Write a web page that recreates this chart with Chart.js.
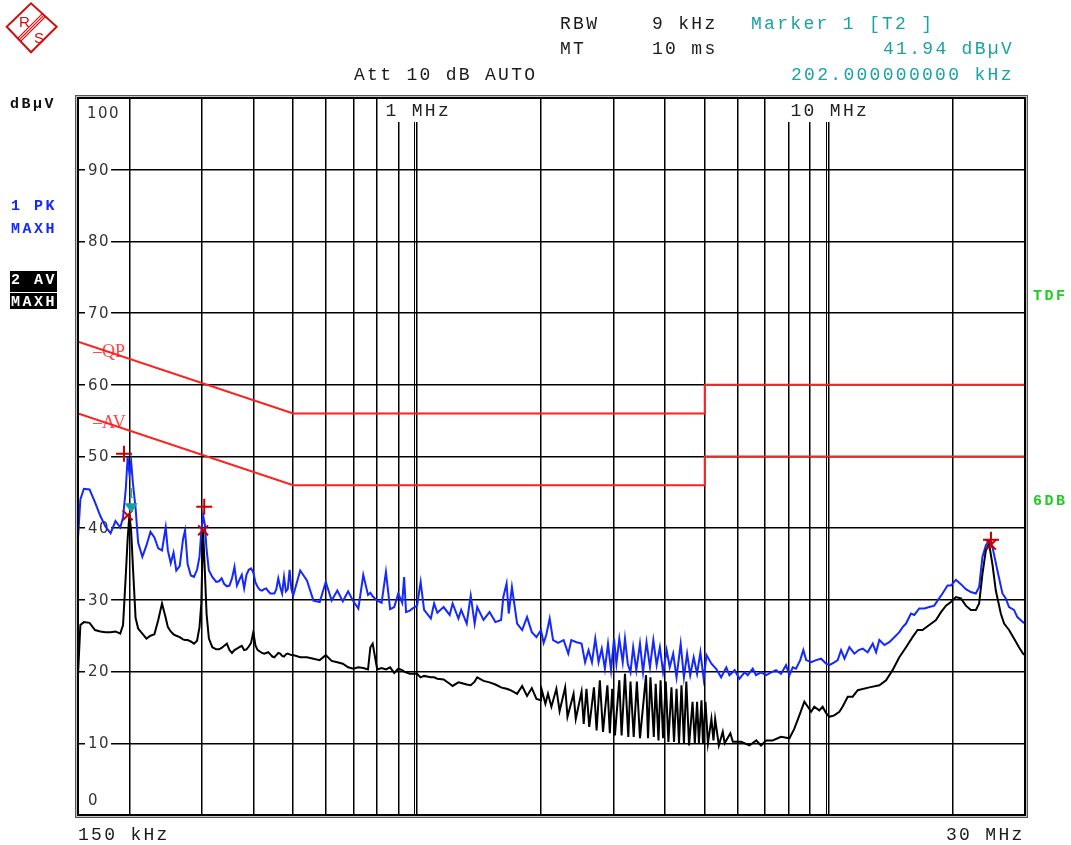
<!DOCTYPE html>
<html>
<head>
<meta charset="utf-8">
<script src="https://cdn.jsdelivr.net/npm/chart.js@4.4.1/dist/chart.umd.min.js"></script>
<style>
  body { margin: 0; background: #fff; }
  #wrap { position: relative; width: 1071px; height: 845px; overflow: hidden; }
  #c { position: absolute; left: 0; top: 0; }
  .t { position: absolute; font-family: "Liberation Mono", monospace; font-size: 18px; line-height: 18px; letter-spacing: 2.3px; white-space: pre; color: #1a1a1a; }
  .teal { color: #1aa3a3; }
  .b { position: absolute; font-family: "Liberation Mono", monospace; font-weight: bold; font-size: 15px; line-height: 15px; letter-spacing: 2.5px; white-space: pre; }
  .blue { color: #1428ff; }
  .green { color: #22cc22; }
  .inv { color: #fff; }
  .box { position: absolute; background: #000; }
</style>
</head>
<body>
<div id="wrap">
  <canvas id="c" width="1071" height="845"></canvas>

  <svg width="64" height="60" style="position:absolute;left:0;top:0">
    <polygon points="6.7,26.7 31,3.3 56.7,26.7 31,52.3" fill="none" stroke="#d01010" stroke-width="2"/>
    <line x1="17.7" y1="38.3" x2="42.4" y2="13.6" stroke="#d01010" stroke-width="1.2"/>
    <line x1="19.2" y1="39.8" x2="43.9" y2="15.1" stroke="#d01010" stroke-width="1.2"/>
    <line x1="20.6" y1="41.4" x2="45.5" y2="16.5" stroke="#d01010" stroke-width="1.2"/>
    <text x="19" y="27" font-family="Liberation Sans" font-size="15" fill="#d01010">R</text>
    <text x="34" y="43" font-family="Liberation Sans" font-size="15" fill="#d01010">S</text>
  </svg>

  <div class="t" style="left:560px;top:14.5px">RBW</div>
  <div class="t" style="left:652px;top:14.5px">9 kHz</div>
  <div class="t teal" style="left:751px;top:14.5px">Marker 1 [T2 ]</div>
  <div class="t" style="left:560px;top:39.5px">MT</div>
  <div class="t" style="left:652px;top:39.5px">10 ms</div>
  <div class="t teal" style="left:883px;top:39.5px">41.94 dBµV</div>
  <div class="t" style="left:354px;top:66px">Att 10 dB AUTO</div>
  <div class="t teal" style="left:791px;top:66px">202.000000000 kHz</div>

  <div class="b" style="left:10px;top:96.5px;color:#111">dBµV</div>
  <div class="b blue" style="left:11px;top:199px">1 PK</div>
  <div class="b blue" style="left:11px;top:222px">MAXH</div>
  <div class="box" style="left:10px;top:271px;width:47px;height:21px"></div>
  <div class="box" style="left:10px;top:293px;width:47px;height:16px"></div>
  <div class="b inv" style="left:11px;top:273px">2 AV</div>
  <div class="b inv" style="left:11px;top:294.5px">MAXH</div>
  <div class="b green" style="left:1033px;top:288.5px">TDF</div>
  <div class="b green" style="left:1033px;top:493.5px">6DB</div>

  <div class="t" style="left:78px;top:826px">150 kHz</div>
  <div class="t" style="left:946px;top:826px">30 MHz</div>
</div>

<script>
// frequency in MHz, level in dBµV
const lowFreq = [
  0.150, 0.152, 0.155, 0.160, 0.165, 0.170, 0.175, 0.180, 0.185, 0.190,
  0.193, 0.196, 0.198, 0.200, 0.202, 0.204, 0.207, 0.210, 0.215, 0.220,
  0.225, 0.230, 0.235, 0.240, 0.245, 0.248, 0.252, 0.256, 0.260, 0.265,
  0.270, 0.273, 0.277, 0.282, 0.287, 0.292, 0.296, 0.299, 0.302, 0.305,
  0.308, 0.312, 0.318, 0.325, 0.330, 0.335, 0.340, 0.345, 0.350, 0.355,
  0.360, 0.365, 0.370, 0.375, 0.380, 0.385, 0.390, 0.395, 0.400, 0.405,
  0.410, 0.415, 0.420, 0.425, 0.430, 0.435, 0.440, 0.445, 0.450, 0.455,
  0.460, 0.465, 0.470, 0.475, 0.480, 0.485, 0.490, 0.495, 0.500, 0.520,
  0.540, 0.560, 0.580, 0.600, 0.620, 0.640, 0.660, 0.680, 0.700, 0.720,
  0.740, 0.760, 0.770, 0.780, 0.800, 0.820, 0.840, 0.860, 0.880, 0.900,
  0.920, 0.930, 0.940, 0.960, 0.980, 1.000, 1.020, 1.040, 1.080, 1.100,
  1.120, 1.160, 1.200, 1.220, 1.260, 1.280, 1.320, 1.350, 1.380, 1.400,
  1.450, 1.500, 1.550, 1.600, 1.620, 1.650, 1.670, 1.700, 1.750, 1.800,
  1.850, 1.900, 1.950, 2.000
];
const peakLow = [
  38.6, 44.0, 45.5, 45.4, 43.6, 41.7, 40.2, 39.3, 41.0, 40.1,
  41.5, 45.5, 49.9, 47.6, 49.2, 46.2, 42.8, 38.0, 36.0, 37.6,
  39.5, 38.7, 37.2, 36.9, 40.1, 36.9, 35.1, 36.6, 34.1, 34.7,
  38.5, 39.7, 35.0, 33.4, 33.2, 34.2, 36.0, 39.5, 41.8, 40.5,
  37.0, 34.1, 33.2, 32.5, 32.6, 33.0, 32.2, 31.9, 32.0, 33.0,
  34.6, 32.0, 32.8, 33.5, 31.6, 33.5, 34.2, 34.4, 33.8, 32.4,
  31.8, 31.4, 31.3, 31.5, 31.6, 31.2, 30.9, 30.9, 30.9, 31.5,
  33.0, 31.8, 30.9, 33.2, 31.2, 31.5, 34.2, 31.5, 30.6, 34.1,
  32.7, 29.9, 29.7, 32.5, 29.9, 31.3, 29.8, 31.2, 29.8, 28.8,
  33.5, 30.7, 31.0, 30.5, 29.9, 29.6, 33.9, 28.7, 29.0, 30.9,
  29.6, 33.2, 28.3, 28.5, 28.9, 29.2, 32.5, 28.6, 27.4, 29.5,
  28.2, 29.0, 27.9, 29.5, 27.4, 28.6, 26.7, 30.6, 26.7, 29.0,
  27.2, 28.3, 26.9, 27.2, 30.4, 32.3, 28.1, 31.8, 26.7, 25.8,
  27.6, 25.5, 24.8, 25.8
];
const avgLow = [
  19.5, 26.5, 26.9, 26.8, 25.8, 25.6, 25.5, 25.5, 25.6, 25.3,
  26.5, 33.5, 38.5, 41.9, 39.5, 34.5, 27.5, 26.0, 25.3, 24.6,
  25.0, 25.2, 27.2, 29.5, 27.5, 26.2, 25.6, 25.2, 25.0, 24.8,
  24.5, 24.4, 24.4, 24.2, 23.9, 24.3, 26.2, 29.5, 39.7, 34.0,
  28.0, 24.6, 23.4, 23.1, 23.1, 23.3, 23.6, 23.9, 23.0, 22.6,
  23.0, 23.2, 23.4, 23.6, 23.0, 23.1, 23.5, 24.0, 25.5, 23.6,
  23.0, 22.8, 22.6, 22.5, 22.6, 22.7, 22.4, 22.1, 22.0, 22.3,
  22.6, 22.5, 22.2, 22.1, 22.4, 22.5, 22.4, 22.3, 22.3, 22.0,
  22.0, 21.8, 21.6, 22.3, 21.5, 21.3, 21.1, 20.6, 20.4, 20.6,
  20.5, 20.3, 23.4, 23.9, 20.3, 20.5, 20.3, 20.6, 19.8, 20.4,
  20.2, 20.0, 19.9, 19.7, 19.7, 19.7, 19.2, 19.4, 19.2, 19.2,
  19.0, 18.9, 18.3, 18.0, 18.5, 18.4, 18.2, 18.1, 18.6, 19.2,
  18.7, 18.5, 18.2, 17.8, 17.7, 17.6, 17.5, 17.3, 16.9, 18.0,
  16.6, 17.7, 16.2, 16.0
];

const peakHighFreq = [
  2.03, 2.06, 2.10, 2.14, 2.20, 2.27, 2.33, 2.37, 2.44, 2.51,
  2.56, 2.61, 2.66, 2.71, 2.76, 2.81, 2.86, 2.91, 2.96, 3.01,
  3.05, 3.10, 3.16, 3.20, 3.25, 3.30, 3.35, 3.41, 3.48, 3.54,
  3.61, 3.68, 3.75, 3.82, 3.89, 3.96, 4.04, 4.11, 4.19, 4.27,
  4.37, 4.45, 4.53, 4.61, 4.70, 4.79, 4.88, 4.97, 5.05, 5.19,
  5.33, 5.48, 5.64, 5.74, 5.91, 6.07, 6.25, 6.36, 6.54, 6.66,
  6.85, 7.05, 7.25, 7.45, 7.66, 7.88, 8.03, 8.18, 8.33, 8.53,
  8.68, 8.82, 9.07, 9.32, 9.59, 9.86, 10.04, 10.32, 10.52, 10.72,
  10.93, 11.23, 11.55, 11.83, 12.10, 12.44, 12.80, 13.04, 13.28, 13.66,
  14.04, 14.44, 14.85, 15.13, 15.42, 15.85, 16.15, 16.60, 17.08, 17.56,
  18.06, 18.39, 18.91, 19.45, 19.82, 20.38, 20.96, 21.55, 22.16, 22.79,
  23.21, 23.64, 24.10, 24.54, 25.00, 25.71, 26.44, 26.94, 27.44, 28.21,
  28.74, 29.67, 30.00
];
const peakHigh = [
  24.0, 25.1, 27.4, 24.4, 24.0, 24.4, 22.5, 24.4, 24.1, 23.9,
  21.3, 23.0, 21.3, 24.6, 21.3, 23.2, 20.4, 23.9, 20.2, 24.6,
  21.1, 24.6, 21.3, 24.6, 21.1, 19.9, 23.4, 20.2, 23.9, 19.9,
  24.1, 20.6, 24.4, 20.9, 23.4, 19.9, 23.0, 20.6, 22.5, 19.2,
  23.9, 19.2, 22.5, 19.5, 22.0, 19.7, 22.7, 19.0, 22.3, 21.1,
  20.4, 19.2, 20.6, 19.5, 20.2, 19.0, 19.9, 19.5, 20.4, 19.5,
  19.9, 19.5, 19.9, 20.2, 19.7, 20.9, 19.5, 20.6, 20.4, 21.6,
  23.0, 21.6, 21.3, 21.6, 21.8, 21.1, 20.9, 21.3, 21.6, 23.0,
  21.8, 23.4, 22.5, 23.0, 23.2, 22.7, 23.9, 22.7, 24.4, 23.7,
  24.1, 24.8, 25.5, 26.2, 26.7, 28.1, 27.9, 28.8, 28.8, 29.0,
  29.2, 29.9, 30.9, 32.0, 32.0, 32.8, 32.2, 31.5, 31.1, 30.9,
  31.8, 36.0, 37.6, 38.3, 37.4, 34.1, 30.9, 30.2, 29.0, 28.6,
  27.6, 26.9, 26.7
];

const avgHighFreq = [
  2.01, 2.05, 2.08, 2.12, 2.18, 2.22, 2.29, 2.32, 2.40, 2.43,
  2.51, 2.54, 2.58, 2.62, 2.69, 2.73, 2.78, 2.83, 2.90, 2.94,
  2.98, 3.025, 3.10, 3.14, 3.20, 3.26, 3.30, 3.36, 3.42, 3.48,
  3.60, 3.64, 3.69, 3.76, 3.80, 3.86, 3.905, 3.96, 4.02, 4.08,
  4.15, 4.21, 4.27, 4.33, 4.39, 4.45, 4.51, 4.58, 4.67, 4.73,
  4.79, 4.84, 4.91, 4.95, 5.02, 5.09, 5.19, 5.25, 5.30, 5.41,
  5.53, 5.59, 5.77, 5.85, 6.13, 6.42, 6.67, 6.85, 7.05, 7.31,
  7.66, 8.03, 8.25, 8.49, 8.73, 8.90, 9.07, 9.23, 9.49, 9.67,
  9.86, 10.04, 10.32, 10.62, 10.81, 11.13, 11.44, 11.77, 12.56, 13.28,
  13.79, 14.30, 14.85, 15.42, 15.99, 16.45, 16.91, 17.56, 18.23, 18.75,
  19.28, 19.82, 20.38, 20.96, 21.55, 22.16, 22.79, 23.21, 23.64, 24.10,
  24.54, 25.00, 25.48, 26.20, 26.69, 27.44, 28.21, 29.01, 29.67, 30.00
];
const avgHigh = [
  17.4, 15.5, 16.9, 15.1, 17.6, 14.5, 17.8, 13.7, 16.9, 13.4,
  17.2, 12.7, 17.6, 12.3, 17.8, 11.8, 18.8, 11.6, 18.1, 11.4,
  17.6, 11.1, 18.8, 11.1, 19.7, 10.9, 18.6, 10.9, 18.6, 10.7,
  19.5, 10.7, 19.2, 10.9, 18.3, 10.4, 18.8, 10.7, 18.6, 10.2,
  17.8, 10.2, 17.6, 10.0, 18.1, 10.0, 18.6, 9.7, 15.8, 10.0,
  15.8, 10.0, 16.0, 10.0, 15.8, 10.0, 13.4, 10.4, 13.4, 9.7,
  11.6, 10.0, 11.4, 10.2, 10.2, 9.7, 10.4, 9.7, 10.4, 10.4,
  10.9, 10.7, 12.0, 13.9, 15.8, 15.1, 14.4, 15.1, 14.6, 15.1,
  14.2, 13.7, 13.9, 14.4, 15.1, 16.5, 16.5, 17.4, 17.8, 18.1,
  18.8, 20.2, 22.0, 23.4, 24.8, 25.8, 25.8, 26.5, 27.2, 28.3,
  29.2, 29.7, 30.4, 30.2, 29.2, 28.6, 28.6, 29.5, 33.6, 36.9,
  37.8, 35.0, 31.3, 28.1, 26.7, 25.8, 24.6, 23.4, 22.5, 22.3
];

// limit lines
const limitFreq = [0.15, 0.5, 5, 5, 30];
const qpLimit = [66, 56, 56, 60, 60];
const avLimit = [56, 46, 46, 50, 50];

// peak markers
const peakMarkFreq = [0.194, 0.304, 24.8];
const peakMarkLevel = [50.4, 43.0, 38.4];
const avgMarkFreq = [0.198, 0.302, 24.8];
const avgMarkLevel = [41.8, 39.7, 37.7];
const marker1Freq = 0.202;
const marker1Level = 41.94;

// grid
const gridFreq = [0.2, 0.3, 0.4, 0.5, 0.6, 0.7, 0.8, 0.9, 1, 2, 3, 4, 5, 6, 7, 8, 9, 10, 20];
const decadeFreq = [1, 10];
const decadeLabels = ['1 MHz', '10 MHz'];
const levelTicks = [0, 10, 20, 30, 40, 50, 60, 70, 80, 90, 100];

const toPts = (fs, vs) => fs.map((f, i) => ({ x: f, y: vs[i] }));
const peakPts = toPts(lowFreq, peakLow).concat(toPts(peakHighFreq, peakHigh));
const avgPts = toPts(lowFreq, avgLow).concat(toPts(avgHighFreq, avgHigh));

const decor = {
  id: 'decor',
  beforeDatasetsDraw(chart) {
    const { ctx, chartArea: a, scales: { x, y } } = chart;
    ctx.save();
    ctx.strokeStyle = '#000';
    ctx.lineWidth = 1;
    decadeFreq.forEach(f => {
      const px = Math.round(x.getPixelForValue(f)) - 3 + 0.5;
      ctx.beginPath();
      ctx.moveTo(px, a.top);
      ctx.lineTo(px, a.bottom);
      ctx.stroke();
    });

    // level labels inside the plot
    ctx.font = '15px "DejaVu Sans"';
    ctx.letterSpacing = '1.5px';
    ctx.textBaseline = 'middle';
    y.ticks.forEach(t => {
      const v = t.value;
      if (v === 0 || v === 100) return;
      const py = y.getPixelForValue(v);
      const s = String(v);
      const w = ctx.measureText(s).width;
      ctx.fillStyle = '#fff';
      ctx.fillRect(a.left + 7, py - 6, w + 4, 12);
      ctx.fillStyle = '#333';
      ctx.fillText(s, a.left + 10, py + 1);
    });
    ctx.textBaseline = 'alphabetic';
    ctx.fillStyle = '#333';
    ctx.fillText('100', a.left + 9, y.getPixelForValue(100) + 20);
    ctx.fillText('0', a.left + 10, y.getPixelForValue(0) - 10);

    // decade labels
    ctx.font = '18px "Liberation Mono"';
    ctx.letterSpacing = '2.3px';
    decadeFreq.forEach((f, i) => {
      const px = x.getPixelForValue(f);
      const s = decadeLabels[i];
      const w = ctx.measureText(s).width;
      const left = px - (w - 2.3) / 2;
      ctx.fillStyle = '#fff';
      ctx.fillRect(left - 3, a.top + 1, w + 3, 23);
      ctx.fillStyle = '#222';
      ctx.fillText(s, left, a.top + 18);
    });

    // limit labels
    ctx.font = '18px "Liberation Serif"';
    ctx.letterSpacing = '0px';
    ctx.fillStyle = '#ff4545';
    ctx.fillText('\u2013QP', a.left + 15, y.getPixelForValue(63.9));
    ctx.fillText('\u2013AV', a.left + 15, y.getPixelForValue(54.0));
    ctx.restore();
  },
  afterDatasetsDraw(chart) {
    const { ctx, scales: { x, y } } = chart;
    const px = x.getPixelForValue(marker1Freq);
    const py = y.getPixelForValue(marker1Level);
    ctx.save();
    ctx.fillStyle = '#1a9e9e';
    ctx.beginPath();
    ctx.moveTo(px - 6.5, py - 11);
    ctx.lineTo(px + 6.5, py - 11);
    ctx.lineTo(px, py - 1);
    ctx.closePath();
    ctx.fill();
    ctx.font = '15px "Liberation Serif"';
    ctx.textAlign = 'center';
    ctx.fillStyle = '#1aa3a3';
    ctx.fillText('1', px, py - 16);
    ctx.restore();
  },
  afterDraw(chart) {
    const { ctx, chartArea: a } = chart;
    ctx.save();
    ctx.lineWidth = 1;
    ctx.strokeStyle = '#555';
    ctx.strokeRect(a.left - 2.5, a.top - 2.5, a.width + 5, a.height + 5);
    ctx.strokeStyle = '#c4c4c4';
    ctx.strokeRect(a.left - 1.5, a.top - 1.5, a.width + 3, a.height + 3);
    ctx.strokeStyle = '#000';
    ctx.lineWidth = 2;
    ctx.strokeRect(a.left, a.top, a.width, a.height);
    ctx.restore();
  }
};

new Chart(document.getElementById('c'), {
  type: 'line',
  data: {
    datasets: [
      {
        label: 'peak marks',
        data: toPts(peakMarkFreq, peakMarkLevel),
        showLine: false,
        pointStyle: 'cross',
        pointRadius: 8,
        pointBorderWidth: 2,
        pointBorderColor: '#c80000',
        borderColor: '#c80000'
      },
      {
        label: 'avg marks',
        data: toPts(avgMarkFreq, avgMarkLevel),
        showLine: false,
        pointStyle: 'crossRot',
        pointRadius: 7,
        pointBorderWidth: 2,
        pointBorderColor: '#c80000',
        borderColor: '#c80000'
      },
      {
        label: '2 AV',
        data: avgPts,
        borderColor: '#000',
        borderWidth: 2,
        pointRadius: 0,
        tension: 0
      },
      {
        label: '1 PK',
        data: peakPts,
        borderColor: '#1428ff',
        borderWidth: 2,
        pointRadius: 0,
        tension: 0
      },
      {
        label: 'QP',
        data: toPts(limitFreq, qpLimit),
        borderColor: '#ff2020',
        borderWidth: 2,
        pointRadius: 0
      },
      {
        label: 'AV',
        data: toPts(limitFreq, avLimit),
        borderColor: '#ff2020',
        borderWidth: 2,
        pointRadius: 0
      }
    ]
  },
  options: {
    responsive: false,
    animation: false,
    devicePixelRatio: 1,
    layout: { padding: { left: 78, top: 98, right: 46, bottom: 30 } },
    plugins: { legend: { display: false }, tooltip: { enabled: false } },
    scales: {
      x: {
        type: 'logarithmic',
        min: 0.15,
        max: 30,
        afterBuildTicks: s => { s.ticks = gridFreq.map(v => ({ value: v })); },
        ticks: { display: false },
        border: { display: false },
        grid: { color: '#000', lineWidth: 1.5, drawTicks: false }
      },
      y: {
        min: 0,
        max: 100,
        afterBuildTicks: s => { s.ticks = levelTicks.map(v => ({ value: v })); },
        ticks: { display: false },
        border: { display: false },
        grid: {
          color: c => (c.tick && (c.tick.value === 0 || c.tick.value === 100)) ? 'rgba(0,0,0,0)' : '#000',
          lineWidth: 1.5,
          drawTicks: false
        }
      }
    }
  },
  plugins: [decor]
});
</script>
</body>
</html>
